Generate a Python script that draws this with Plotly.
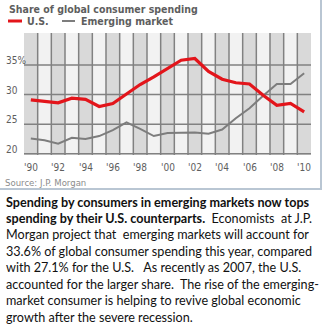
import plotly.graph_objects as go

# Share of global consumer spending, % (1990-2010)
years = list(range(1990, 2011))
us_share = [29.1, 28.8, 28.6, 29.4, 29.2, 28.0, 28.5, 30.1, 31.7, 33.0, 34.4, 35.8, 36.1,
            33.9, 32.6, 32.0, 31.8, 29.9, 28.2, 28.5, 27.1]
em_share = [22.6, 22.3, 21.7, 22.7, 22.5, 23.0, 24.0, 25.3, 24.2, 23.0, 23.5, 23.6, 23.6,
            23.4, 24.1, 26.0, 27.7, 29.8, 31.8, 31.8, 33.6]

y_ticks = [20, 25, 30, 35]
y_tick_labels = ["20", "25", "30", "35%"]
x_tick_years = list(range(1990, 2011, 2))
x_tick_labels = ["'90", "'92", "'94", "'96", "'98", "'00", "'02", "'04", "'06", "'08", "'10"]

title_text = "Share of global consumer spending"
source_text = "Source: J.P. Morgan"
caption_lines = [
    "<b>Spending by consumers in emerging markets now tops</b>",
    "<b>spending by their U.S. counterparts.</b>  Economists  at J.P.",
    "Morgan project that  emerging markets will account for",
    "33.6% of global consumer spending this year, compared",
    "with 27.1% for the U.S.   As recently as 2007, the U.S.",
    "accounted for the larger share.  The rise of the emerging-",
    "market consumer is helping to revive global economic",
    "growth after the severe recession.",
]

W = H = 324
RED = "#e3151b"
GREY_LINE = "#7d7d7d"
GRID = "#818181"
TXT = "#5e5e5e"
NARROW = "Liberation Sans Narrow, DejaVu Sans Condensed, Arial Narrow, sans-serif"
X_LO, X_HI = 1989.5, 2010.5
Y_LO, Y_HI = 19.8, 40.4


def px_x(p):
    return p / W


def px_y(p):
    return 1 - p / H


fig = go.Figure()

# year separators and horizontal rules, drawn under the data lines
for yr in years[:-1]:
    fig.add_trace(go.Scatter(x=[yr + 0.5, yr + 0.5], y=[Y_LO, Y_HI], mode="lines",
                             line=dict(color=GRID, width=1.5), hoverinfo="skip"))
for v in y_ticks:
    fig.add_trace(go.Scatter(x=[X_LO, X_HI], y=[v, v], mode="lines",
                             line=dict(color=GRID, width=1.5), hoverinfo="skip"))

fig.add_trace(go.Scatter(x=years, y=em_share, mode="lines",
                         line=dict(color=GREY_LINE, width=2), hoverinfo="skip"))
fig.add_trace(go.Scatter(x=years, y=us_share, mode="lines",
                         line=dict(color=RED, width=3.2), hoverinfo="skip"))

shapes = []
# shaded bands on even years
for yr in x_tick_years:
    shapes.append(dict(type="rect", xref="x", yref="y domain", x0=yr - 0.5, x1=yr + 0.5,
                       y0=0, y1=1, fillcolor="#d9d9d9", line=dict(width=0), layer="below"))

# chart frame (light blue-grey) around the graphic
shapes.append(dict(type="line", xref="paper", yref="paper", x0=0, x1=px_x(322),
                   y0=px_y(189), y1=px_y(189), line=dict(color="#b9c6d3", width=2)))
shapes.append(dict(type="line", xref="paper", yref="paper", x0=px_x(321), x1=px_x(321),
                   y0=px_y(189), y1=1, line=dict(color="#b9c6d3", width=2)))

# legend swatches
shapes.append(dict(type="line", xref="paper", yref="paper", x0=px_x(8), x1=px_x(22),
                   y0=px_y(21), y1=px_y(21), line=dict(color=RED, width=3)))
shapes.append(dict(type="line", xref="paper", yref="paper", x0=px_x(62), x1=px_x(75),
                   y0=px_y(21), y1=px_y(21), line=dict(color=GREY_LINE, width=2)))

annotations = []
annotations.append(dict(text="<b>" + title_text + "</b>", x=px_x(7), y=px_y(9),
                        xref="paper", yref="paper", xanchor="left", yanchor="middle",
                        showarrow=False, font=dict(family=NARROW, size=10.5, color=TXT)))
annotations.append(dict(text="<b>U.S.</b>", x=px_x(25), y=px_y(21),
                        xref="paper", yref="paper", xanchor="left", yanchor="middle",
                        showarrow=False, font=dict(family=NARROW, size=10.5, color=TXT)))
annotations.append(dict(text="<b>Emerging market</b>", x=px_x(79), y=px_y(21),
                        xref="paper", yref="paper", xanchor="left", yanchor="middle",
                        showarrow=False, font=dict(family=NARROW, size=10.5, color=TXT)))

for v, lab in zip(y_ticks, y_tick_labels):
    annotations.append(dict(text=lab, x=px_x(4), y=v, xref="paper", yref="y",
                            xanchor="left", yanchor="bottom", yshift=-3, showarrow=False,
                            font=dict(family=NARROW, size=10, color=TXT)))

for yr, lab in zip(x_tick_years, x_tick_labels):
    annotations.append(dict(text=lab, x=yr, y=px_y(167.5), xref="x", yref="paper",
                            xanchor="center", yanchor="middle", showarrow=False,
                            font=dict(family=NARROW, size=10, color=TXT)))

annotations.append(dict(text=source_text, x=px_x(3), y=px_y(182), xref="paper", yref="paper",
                        xanchor="left", yanchor="middle", showarrow=False,
                        font=dict(family=NARROW, size=9.5, color="#8c8c8c")))

for i, line in enumerate(caption_lines):
    annotations.append(dict(text=line, x=px_x(4), y=px_y(202 + i * 16.45),
                            xref="paper", yref="paper", xanchor="left", yanchor="middle",
                            showarrow=False,
                            font=dict(family="Lato, Carlito, sans-serif", size=12.6,
                                      color="#111111")))

fig.update_layout(
    width=W, height=H,
    margin=dict(l=0, r=0, t=0, b=0),
    paper_bgcolor="white",
    plot_bgcolor="#f2f2f2",
    showlegend=False,
    shapes=shapes,
    annotations=annotations,
    xaxis=dict(domain=[px_x(24), px_x(311)], range=[X_LO, X_HI],
               showticklabels=False, showgrid=False, zeroline=False,
               showline=False, ticks=""),
    yaxis=dict(domain=[px_y(155), px_y(33)], range=[Y_LO, Y_HI],
               showticklabels=False, showgrid=False, zeroline=False,
               showline=False, ticks=""),
)

fig.write_html("out.html")
